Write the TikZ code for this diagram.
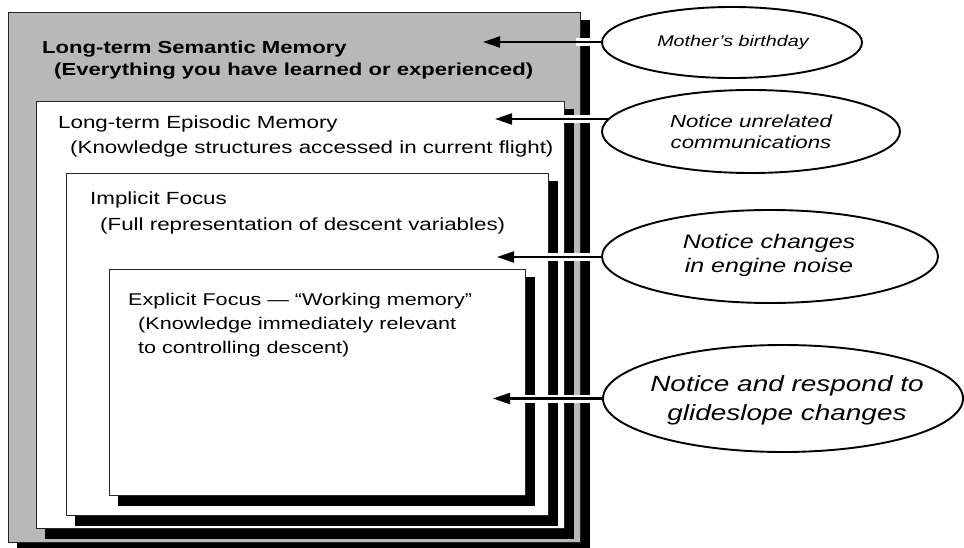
\documentclass[tikz,border=0pt]{standalone}
\usepackage{fontspec}
\setmainfont{Liberation Sans}[FakeStretch=1.27]
\usetikzlibrary{arrows.meta,shapes.geometric}
\pgfdeclarelayer{boxes}
\pgfdeclarelayer{links}
\pgfsetlayers{boxes,links,main}
\definecolor{halft}{gray}{0.72}
\begin{document}
\begin{tikzpicture}[x=1pt,y=-1pt,
  boxline/.style={draw=black!85, line width=0.9pt},
  shadowfill/.style={fill=black},
  lbl/.style={anchor=base west, inner sep=0pt, font=\fontsize{17.6}{20}\selectfont},
  lblb/.style={anchor=base west, inner sep=0pt, font=\fontsize{17.4}{20}\selectfont\bfseries},
  lblx/.style={anchor=base west, inner sep=0pt, font=\fontsize{17}{20}\selectfont},
  bubble/.style={ellipse, draw, line width=1.9pt, fill=white, inner sep=0pt},
  bubtext/.style={align=center, inner sep=0pt, font=\itshape},
  halo/.style={draw=white, line width=8pt},
  arr/.style={draw=black, line width=2.2pt, -{Triangle[length=17pt,width=11pt]}}
]
\useasboundingbox (0,0) rectangle (964,548);

\begin{pgfonlayer}{boxes}
  % Long-term semantic memory
  \fill[shadowfill] (17,20) rectangle (590,552);
  \draw[boxline, fill=halft] (8,12) rectangle (580,542);
  % Long-term episodic memory
  \fill[shadowfill] (45,109) rectangle (574,539);
  \draw[boxline, fill=white] (36,101) rectangle (564,528);
  % Implicit focus
  \fill[shadowfill] (75,181) rectangle (558,526);
  \draw[boxline, fill=white] (66,173) rectangle (548,515);
  % Explicit focus
  \fill[shadowfill] (118,277) rectangle (535,506);
  \draw[boxline, fill=white] (109,269) rectangle (525,495);
\end{pgfonlayer}

% box texts
\node[lblb] (s1) at (42,54) {Long-term Semantic Memory};
\node[lblb] (s2) at (54,76) {(Everything you have learned or experienced)};
\node[lbl] (p1) at (58,129) {Long-term Episodic Memory};
\node[lbl] (p2) at (70,154) {(Knowledge structures accessed in current flight)};
\node[lbl] (i1) at (90,205) {Implicit Focus};
\node[lbl] (i2) at (100,231) {(Full representation of descent variables)};
\node[lblx] (x1) at (128,305) {Explicit Focus — “Working memory”};
\node[lblx] (x2) at (138,329) {(Knowledge immediately relevant};
\node[lblx] (x3) at (138,353) {to controlling descent)};

% ellipses
\node[bubble, minimum width=260pt, minimum height=71pt] (e1) at (732,42.5) {};
\node[bubble, minimum width=298pt, minimum height=83pt] (e2) at (751,131.5) {};
\node[bubble, minimum width=336pt, minimum height=93pt] (e3) at (770,256.5) {};
\node[bubble, minimum width=360pt, minimum height=107pt] (e4) at (783,398.5) {};

\node[bubtext, font=\itshape\fontsize{15.5}{18}\selectfont] (m1) at (733,42) {Mother’s birthday};
\node[bubtext, font=\itshape\fontsize{17.5}{21}\selectfont] (m2) at (751,132) {Notice unrelated\\communications};
\node[bubtext, font=\itshape\fontsize{19.7}{24}\selectfont] (m3) at (769,255) {Notice changes\\in engine noise};
\node[bubtext, font=\itshape\fontsize{22}{29}\selectfont] (m4) at (787,400) {Notice and respond to\\glideslope changes};

% arrow tips
\coordinate (t1) at (483,42);
\coordinate (t2) at (495,119);
\coordinate (t3) at (497,257);
\coordinate (t4) at (493,398.5);
\coordinate (h1) at (576,42);
\coordinate (h2) at (520,119);
\coordinate (h3) at (520,257);
\coordinate (h4) at (516,398.5);

\begin{pgfonlayer}{links}
  \draw[halo] (e1.center |- t1) -- (h1);
  \draw[halo] (e2.center |- t2) -- (h2);
  \draw[halo] (e3.center |- t3) -- (h3);
  \draw[halo] (e4.center |- t4) -- (h4);
  \draw[arr] (e1.center |- t1) -- (t1);
  \draw[arr] (e2.center |- t2) -- (t2);
  \draw[arr] (e3.center |- t3) -- (t3);
  \draw[arr] (e4.center |- t4) -- (t4);
\end{pgfonlayer}
\end{tikzpicture}
\end{document}
